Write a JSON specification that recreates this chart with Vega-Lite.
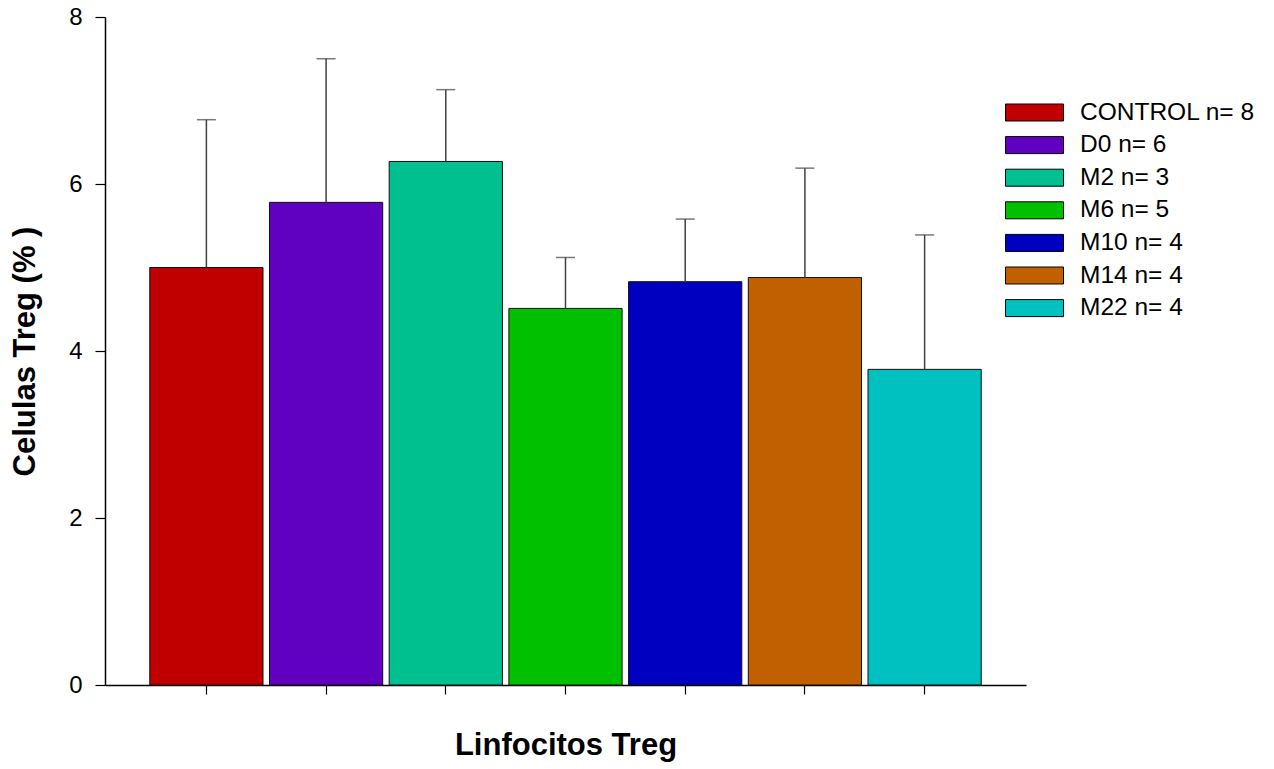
{
  "$schema": "https://vega.github.io/schema/vega-lite/v6.json",
  "autosize": "none",
  "width": 921,
  "height": 668,
  "padding": {"left": 105, "top": 17, "right": 248, "bottom": 84},
  "background": "white",
  "config": {
    "view": {"stroke": null},
    "font": "Liberation Sans",
    "axis": {"labelFont": "Liberation Sans", "titleFont": "Liberation Sans", "grid": false, "domainColor": "black", "tickColor": "black", "domainWidth": 1.5, "tickWidth": 1.2},
    "axisY": {
      "titleFontSize": 31,
      "titleFontWeight": "bold",
      "titleColor": "black",
      "titlePadding": 27,
      "labelFontSize": 24,
      "labelColor": "black",
      "labelPadding": 13,
      "tickSize": 10
    },
    "legend": {"labelFont": "Liberation Sans"}
  },
  "data": {
    "values": [
      {"group": "CONTROL n= 8", "mean": 5.0, "upper": 6.77},
      {"group": "D0 n= 6", "mean": 5.78, "upper": 7.5},
      {"group": "M2 n= 3", "mean": 6.27, "upper": 7.13},
      {"group": "M6 n= 5", "mean": 4.51, "upper": 5.12},
      {"group": "M10 n= 4", "mean": 4.83, "upper": 5.58},
      {"group": "M14 n= 4", "mean": 4.88, "upper": 6.19},
      {"group": "M22 n= 4", "mean": 3.78, "upper": 5.39}
    ]
  },
  "encoding": {
    "x": {
      "field": "group",
      "type": "nominal",
      "sort": null,
      "scale": {"paddingInner": 0.054, "paddingOuter": 0.374},
      "axis": {
        "title": "Linfocitos Treg",
        "titleFontSize": 31,
        "titleFontWeight": "bold",
        "titleColor": "black",
        "titlePadding": 36,
        "labels": false,
        "tickSize": 9,
        "domainColor": "black"
      }
    }
  },
  "layer": [
    {
      "mark": {"type": "bar", "stroke": "#111111", "strokeWidth": 1},
      "encoding": {
        "y": {
          "field": "mean",
          "type": "quantitative",
          "scale": {"domain": [0, 8], "nice": false, "zero": true},
          "axis": {"title": "Celulas Treg (% )", "values": [0, 2, 4, 6, 8], "format": "d", "labelFontSize": 24, "labelPadding": 13}
        },
        "color": {
          "field": "group",
          "type": "nominal",
          "sort": null,
          "scale": {
            "domain": ["CONTROL n= 8", "D0 n= 6", "M2 n= 3", "M6 n= 5", "M10 n= 4", "M14 n= 4", "M22 n= 4"],
            "range": ["#c00000", "#6000c0", "#00c090", "#00c000", "#0000c0", "#c06000", "#00c0c0"]
          },
          "legend": {
            "title": null,
            "orient": "none",
            "legendX": 900,
            "legendY": 80.5,
            "symbolType": "M-1,-0.586H3V0.586H-1Z",
            "symbolSize": 841,
            "symbolStrokeColor": "black",
            "symbolStrokeWidth": 1,
            "symbolOpacity": 1,
            "labelFontSize": 24.5,
            "labelColor": "black",
            "labelOffset": 45,
            "labelLimit": 400,
            "rowPadding": 5.6,
            "padding": 0
          }
        }
      }
    },
    {
      "mark": {"type": "rule", "color": "#404040", "strokeWidth": 1.5},
      "encoding": {
        "y": {"field": "mean", "type": "quantitative", "axis": {"title": "Celulas Treg (% )", "values": [0, 2, 4, 6, 8], "format": "d", "labelFontSize": 24, "labelPadding": 13}},
        "y2": {"field": "upper"}
      }
    },
    {
      "mark": {"type": "tick", "color": "#404040", "thickness": 1.5, "size": 19},
      "encoding": {
        "y": {"field": "upper", "type": "quantitative", "axis": {"title": "Celulas Treg (% )", "values": [0, 2, 4, 6, 8], "format": "d", "labelFontSize": 24, "labelPadding": 13}}
      }
    }
  ]
}
